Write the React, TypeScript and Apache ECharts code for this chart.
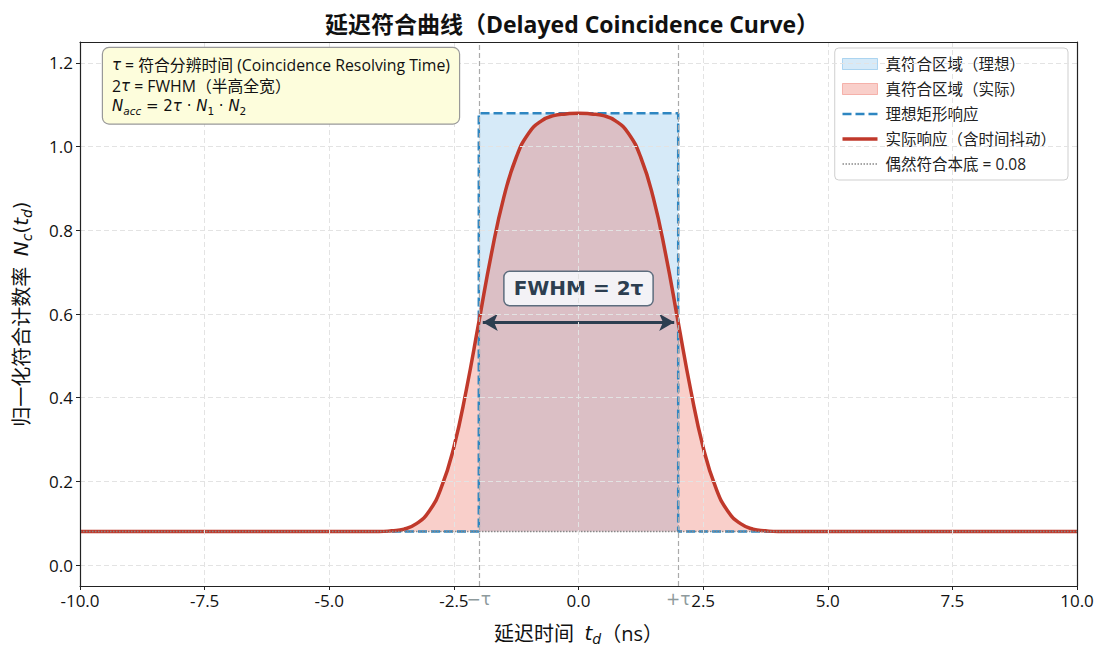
import React, { useEffect, useRef } from 'react';
import * as echarts from 'echarts';

const TITLE = '延迟符合曲线（Delayed Coincidence Curve）';
const X_MIN = -10;
const X_MAX = 10;
const X_INTERVAL = 2.5;
const Y_MIN = -0.05;
const Y_MAX = 1.25;
const TAU = 2;
const BASELINE = 0.08;
const PEAK = 1.08;

const tdActual = [-10, -7.5, -5, -4.5, -4, -3.75, -3.5, -3.25, -3, -2.75, -2.5, -2.25, -2, -1.75, -1.5, -1.25, -1, -0.75, -0.5, -0.25, 0,
  0.25, 0.5, 0.75, 1, 1.25, 1.5, 1.75, 2, 2.25, 2.5, 2.75, 3, 3.25, 3.5, 3.75, 4, 4.5, 5, 7.5, 10];
const ncActual = [0.08, 0.08, 0.08, 0.08, 0.08, 0.082, 0.086, 0.099, 0.128, 0.186, 0.282, 0.419, 0.58, 0.742, 0.878, 0.974, 1.032, 1.061, 1.074, 1.078, 1.08,
  1.078, 1.074, 1.061, 1.032, 0.974, 0.878, 0.742, 0.58, 0.419, 0.282, 0.186, 0.128, 0.099, 0.086, 0.082, 0.08, 0.08, 0.08, 0.08, 0.08];

// ideal rectangular response
const tdIdeal = [-10, -TAU, -TAU, TAU, TAU, 10];
const ncIdeal = [BASELINE, BASELINE, PEAK, PEAK, BASELINE, BASELINE];

// accidental background
const tdBase = [-10, 10];
const ncBase = [BASELINE, BASELINE];

// annotations
const fwhmArrowX = [-1.92, 1.92];
const halfMax = 0.58;
const fwhmLabelPos = [0, 0.661];
const tauMarks = [
  { x: -TAU, label: '−τ', line: true },
  { x: 0, label: '0', line: false },
  { x: TAU, label: '+τ', line: true },
];

const SERIES_NAMES = ['真符合区域（理想）', '真符合区域（实际）', '理想矩形响应', '实际响应（含时间抖动）', '偶然符合本底 = 0.08'];

const FONT = '"Open Sans", "Noto Sans CJK SC", sans-serif';
const BLUE_FILL = 'rgba(52,152,219,0.2)';
const RED_FILL = 'rgba(231,76,60,0.27)';
const BLUE = '#2e86c1';
const RED = '#c0392b';
const NAVY = '#2c3e50';
const TRANSPARENT = 'rgba(0,0,0,0)';

const zip = (a: number[], b: number[]) => a.map((v, i) => [v, b[i]]);

export default function App() {
  const ref = useRef<HTMLDivElement>(null);
  useEffect(() => {
    if (!ref.current) return;
    const chart = echarts.init(ref.current, null, { renderer: 'svg' });
    const mathRich = {
      i: { fontStyle: 'italic', fontFamily: '"DejaVu Sans"', fontSize: 20, lineHeight: 26, color: '#111' },
      p: { fontFamily: '"DejaVu Sans"', fontSize: 20, lineHeight: 26, color: '#111' },
      s: { fontStyle: 'italic', fontFamily: '"DejaVu Sans"', fontSize: 14, lineHeight: 16, verticalAlign: 'bottom', color: '#111' },
      z: { fontFamily: FONT, fontSize: 20, lineHeight: 26, color: '#111' },
    };
    const lineLegendStyle = { color: TRANSPARENT, borderColor: TRANSPARENT, borderWidth: 0 };
    const hiddenAxisPart = {
      axisTick: { show: false },
      axisLabel: { show: false },
      splitLine: { show: false },
    };
    const option: any = {
      animation: false,
      backgroundColor: '#fff',
      grid: { left: 80, right: 25, top: 42, bottom: 60, show: false, containLabel: false, outerBoundsMode: 'none' },
      legend: {
        orient: 'vertical',
        right: 34,
        top: 48,
        itemWidth: 35,
        itemHeight: 11,
        itemGap: 9,
        padding: [8, 12, 8, 6],
        backgroundColor: '#fff',
        borderColor: '#cfcfcf',
        borderWidth: 1,
        borderRadius: 4,
        textStyle: { fontFamily: FONT, fontSize: 15.5, color: '#222', lineHeight: 16, padding: [0, 0, 0, 3] },
        data: [
          { name: SERIES_NAMES[0], icon: 'rect', itemStyle: { color: BLUE_FILL, borderColor: 'rgba(52,152,219,0.35)', borderWidth: 1 } },
          { name: SERIES_NAMES[1], icon: 'rect', itemStyle: { color: RED_FILL, borderColor: 'rgba(231,76,60,0.35)', borderWidth: 1 } },
          { name: SERIES_NAMES[2], itemStyle: lineLegendStyle, lineStyle: { width: 2.5 } },
          { name: SERIES_NAMES[3], itemStyle: lineLegendStyle, lineStyle: { width: 3.5 } },
          { name: SERIES_NAMES[4], itemStyle: lineLegendStyle, lineStyle: { width: 1.5 } },
        ],
      },
      xAxis: [
        {
          type: 'value',
          min: X_MIN,
          max: X_MAX,
          interval: X_INTERVAL,
          name: '{z|延迟时间  }{i|t}{s|d}{z|（ns）}',
          nameLocation: 'middle',
          nameGap: 34,
          nameTextStyle: { rich: mathRich },
          axisLine: { show: true, onZero: false, lineStyle: { color: '#222', width: 1.2 } },
          axisTick: { show: true, inside: false, length: 4, lineStyle: { color: '#222' } },
          axisLabel: { fontFamily: FONT, fontSize: 17, color: '#111', margin: 6, formatter: (v: number) => v.toFixed(1) },
          splitLine: { show: true, lineStyle: { color: '#e3e3e3', type: [5, 3], width: 1 } },
          z: 10,
        },
        {
          type: 'value',
          position: 'top',
          min: X_MIN,
          max: X_MAX,
          axisLine: { show: true, onZero: false, lineStyle: { color: '#222', width: 1.2 } },
          ...hiddenAxisPart,
          z: 10,
        },
      ],
      yAxis: [
        {
          type: 'value',
          min: Y_MIN,
          max: Y_MAX,
          splitNumber: 6,
          name: '{z|归一化符合计数率  }{i|N}{s|c}{p|(}{i|t}{s|d}{p|)}',
          nameLocation: 'middle',
          nameGap: 46,
          nameTextStyle: { rich: mathRich },
          axisLine: { show: true, onZero: false, lineStyle: { color: '#222', width: 1.2 } },
          axisTick: { show: true, inside: false, length: 4, lineStyle: { color: '#222' } },
          axisLabel: {
            fontFamily: FONT, fontSize: 17, color: '#111', margin: 7, showMinLabel: false, showMaxLabel: false,
            formatter: (v: number) => (Math.abs(v * 5 - Math.round(v * 5)) < 1e-6 ? v.toFixed(1) : ''),
          },
          splitLine: { show: true, lineStyle: { color: '#e3e3e3', type: [5, 3], width: 1 } },
          z: 10,
        },
        {
          type: 'value',
          position: 'right',
          min: Y_MIN,
          max: Y_MAX,
          axisLine: { show: true, onZero: false, lineStyle: { color: '#222', width: 1.2 } },
          ...hiddenAxisPart,
          z: 10,
        },
      ],
      series: [
        {
          name: SERIES_NAMES[0],
          type: 'line',
          data: zip(tdIdeal, ncIdeal),
          symbol: 'none',
          lineStyle: { width: 0, opacity: 0 },
          itemStyle: { color: BLUE_FILL },
          areaStyle: { color: BLUE_FILL, origin: BASELINE, opacity: 1 },
          z: 1,
        },
        {
          name: SERIES_NAMES[1],
          type: 'line',
          data: zip(tdActual, ncActual),
          smooth: true,
          symbol: 'none',
          lineStyle: { width: 0, opacity: 0 },
          itemStyle: { color: RED_FILL },
          areaStyle: { color: RED_FILL, origin: BASELINE, opacity: 1 },
          z: 2,
        },
        {
          name: SERIES_NAMES[2],
          type: 'line',
          data: zip(tdIdeal, ncIdeal),
          symbol: 'none',
          itemStyle: { color: BLUE },
          lineStyle: { color: BLUE, width: 2.5, type: [9, 4] },
          z: 3,
        },
        {
          name: SERIES_NAMES[3],
          type: 'line',
          data: zip(tdActual, ncActual),
          smooth: true,
          symbol: 'none',
          itemStyle: { color: RED },
          lineStyle: { color: RED, width: 3.5 },
          z: 4,
          markLine: {
            silent: true,
            symbol: ['arrow', 'arrow'],
            symbolSize: [13, 15],
            lineStyle: { color: NAVY, width: 3, type: 'solid' },
            label: { show: false },
            data: [[{ coord: [fwhmArrowX[0], halfMax] }, { coord: [fwhmArrowX[1], halfMax] }]],
          },
          markPoint: {
            silent: true,
            symbol: 'rect',
            symbolSize: 1,
            itemStyle: { color: TRANSPARENT },
            label: {
              show: true,
              position: 'inside',
              formatter: 'FWHM = 2τ',
              fontFamily: '"DejaVu Sans"',
              fontWeight: 'bold',
              fontSize: 20,
              color: NAVY,
              backgroundColor: '#f3f2f6',
              borderColor: '#5d6d7e',
              borderWidth: 1.5,
              borderRadius: 5,
              padding: [7, 9, 6, 9],
            },
            data: [{ coord: fwhmLabelPos }],
          },
        },
        {
          name: SERIES_NAMES[4],
          type: 'line',
          data: zip(tdBase, ncBase),
          symbol: 'none',
          itemStyle: { color: '#888' },
          lineStyle: { color: '#888', width: 1.5, type: 'dotted' },
          z: 5,
          markLine: {
            silent: true,
            symbol: 'none',
            lineStyle: { color: '#aaa', width: 1.2, type: [5, 3] },
            label: { show: true, position: 'start', distance: 4, color: '#8e9a9c', fontFamily: '"DejaVu Sans"', fontSize: 17 },
            data: tauMarks.map((m) => ({
              xAxis: m.x,
              label: { formatter: m.label },
              lineStyle: m.line ? {} : { opacity: 0, width: 0 },
            })),
          },
        },
      ],
      graphic: [
        {
          type: 'text',
          x: 572,
          y: 24,
          style: {
            text: TITLE,
            fill: '#111',
            font: `bold 23px ${FONT}`,
            align: 'center',
            verticalAlign: 'middle',
          },
          z: 100,
        },
        {
          type: 'text',
          x: 103,
          y: 48,
          z: 100,
          style: {
            text: '{i|τ} = 符合分辨时间 (Coincidence Resolving Time)\n2{i|τ} = FWHM（半高全宽）\n{i|N}{si|acc}{b| = 2}{i|τ}{b| · }{i|N}{s|1}{b| · }{i|N}{s|2}',
            fill: '#111',
            font: `15.8px ${FONT}`,
            lineHeight: 20.5,
            backgroundColor: '#fdfddc',
            borderColor: '#999',
            borderWidth: 1.2,
            borderRadius: 6,
            padding: [7, 9, 7, 9],
            rich: {
              i: { fontStyle: 'italic', fontFamily: '"DejaVu Sans"', fontSize: 15, lineHeight: 20.5, fill: '#111' },
              s: { fontFamily: '"DejaVu Sans"', fontSize: 10.5, lineHeight: 12, verticalAlign: 'bottom', fill: '#111' },
              si: { fontStyle: 'italic', fontFamily: '"DejaVu Sans"', fontSize: 10.5, lineHeight: 12, verticalAlign: 'bottom', fill: '#111' },
              b: { fontFamily: '"DejaVu Sans"', fontSize: 15, lineHeight: 20.5, fill: '#111' },
            },
          },
        },
      ],
    };
    chart.setOption(option);
    return () => chart.dispose();
  }, []);
  return <div ref={ref} style={{ position: 'fixed', left: 0, top: 0, width: 1102, height: 646 }} />;
}
